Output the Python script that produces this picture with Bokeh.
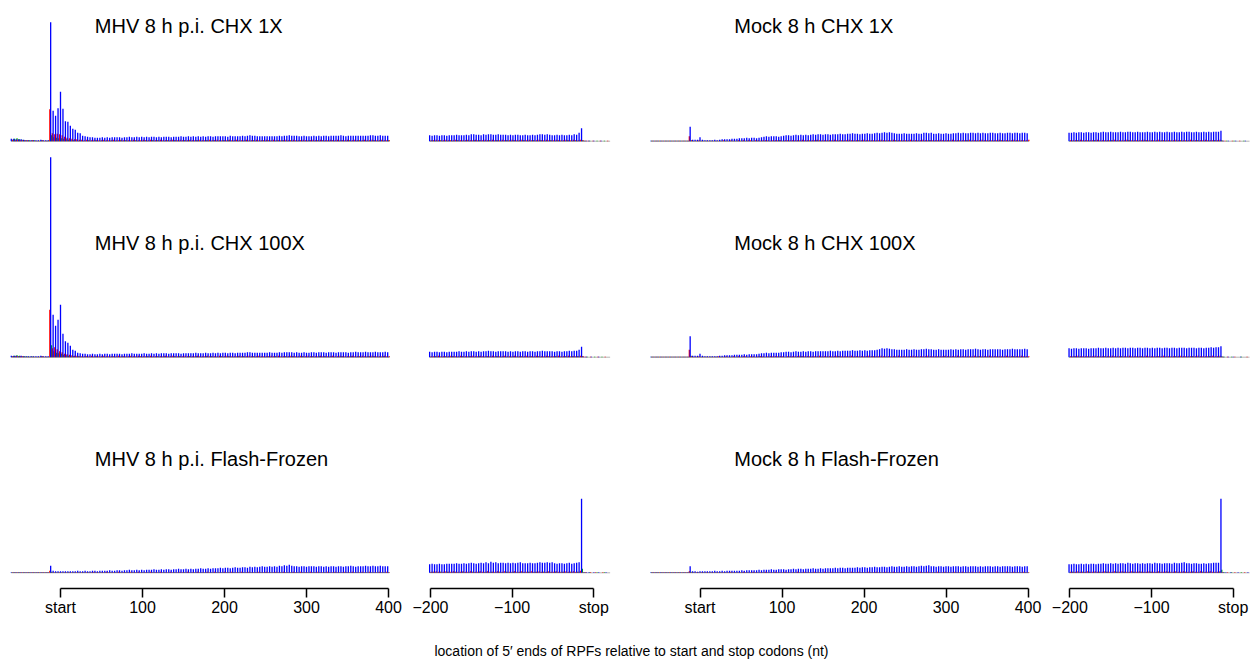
from bokeh.plotting import figure
from bokeh.layouts import column, row
from bokeh.models import Range1d, Label, LinearAxis, FixedTicker, ColumnDataSource
from bokeh.embed import file_html
from bokeh.resources import INLINE

# ------------------------------------------------------------------ data
# Density of RPF 5' ends (normalised units), one value per codon and frame.
# Start windows: in-frame positions -60, -57, ..., 399 nt relative to the start codon
# Stop windows : in-frame positions -201, -198, ..., 18 nt relative to the stop codon
# frame 0 (blue) at p, frame 1 (green) at p+1, frame 2 (red) at p+2
START_FIRST_NT = -60
STOP_FIRST_NT = -201

titles_left = ["MHV 8 h p.i. CHX 1X", "MHV 8 h p.i. CHX 100X", "MHV 8 h p.i. Flash-Frozen"]
titles_right = ["Mock 8 h CHX 1X", "Mock 8 h CHX 100X", "Mock 8 h Flash-Frozen"]
start_ticks = [0, 100, 200, 300, 400]
start_tick_labels = ["start", "100", "200", "300", "400"]
stop_ticks = [-200, -100, 0]
stop_tick_labels = ["\u2212200", "\u2212100", "stop"]
x_label = "location of 5\u2032 ends of RPFs relative to start and stop codons (nt)"

# ---- MHV 8 h p.i. CHX 1X
mhv_1x_start_blue = [
    5, 5, 4, 4, 4, 3, 2, 2, 2, 2,
    2, 2, 3, 2, 2, 2, 238, 61, 51, 66,
    99, 65, 40, 39, 31, 25, 23, 17, 16, 11,
    10, 9, 8, 8, 7, 7, 7, 8, 7, 8,
    7, 8, 8, 8, 8, 7, 8, 8, 9, 8,
    8, 9, 8, 9, 8, 9, 8, 9, 9, 8,
    9, 8, 9, 9, 9, 8, 9, 9, 9, 10,
    9, 9, 10, 9, 10, 9, 10, 9, 10, 9,
    10, 10, 9, 10, 10, 10, 10, 10, 9, 11,
    10, 10, 10, 10, 11, 10, 11, 12, 11, 11,
    10, 10, 10, 10, 10, 10, 10, 10, 10, 11,
    10, 11, 11, 12, 11, 11, 11, 10, 10, 11,
    10, 10, 10, 11, 10, 11, 10, 11, 11, 10,
    11, 11, 11, 11, 12, 11, 10, 11, 11, 11,
    11, 11, 11, 11, 11, 11, 12, 12, 11, 11,
    12, 11, 11, 11]
mhv_1x_start_green = [
    3, 5, 6, 4, 3, 2, 2, 2, 2, 2,
    1, 1, 2, 1, 1, 2, 12, 8, 7, 6,
    6, 5, 4, 3, 2, 2, 2, 1, 2, 1,
    1, 2, 1, 1, 2, 1, 1, 2, 1, 1,
    1, 2, 1, 1, 2, 1, 2, 1, 1, 1,
    2, 1, 1, 1, 2, 1, 1, 2, 1, 2,
    1, 1, 1, 2, 1, 1, 2, 1, 1, 1,
    2, 1, 2, 1, 1, 2, 1, 1, 1, 2,
    1, 1, 2, 1, 1, 1, 2, 1, 2, 1,
    1, 2, 1, 1, 1, 2, 1, 1, 2, 1,
    1, 1, 2, 1, 2, 1, 1, 1, 2, 1,
    2, 1, 1, 2, 1, 1, 1, 2, 1, 1,
    1, 2, 1, 1, 2, 1, 2, 1, 1, 1,
    2, 1, 1, 1, 2, 1, 1, 2, 1, 1,
    1, 2, 1, 2, 1, 1, 1, 2, 1, 1,
    2, 1, 1, 2]
mhv_1x_start_red = [
    3, 2, 3, 2, 2, 2, 2, 1, 2, 1,
    1, 1, 2, 1, 1, 64, 16, 14, 15, 14,
    12, 9, 7, 6, 5, 4, 4, 3, 3, 2,
    3, 2, 2, 3, 2, 2, 2, 3, 2, 2,
    2, 3, 2, 2, 3, 2, 2, 2, 2, 3,
    2, 2, 2, 3, 2, 2, 3, 2, 2, 2,
    3, 2, 2, 2, 2, 3, 2, 2, 3, 2,
    2, 2, 3, 2, 2, 2, 3, 2, 2, 2,
    3, 2, 2, 3, 2, 2, 2, 2, 3, 2,
    2, 3, 2, 2, 2, 3, 2, 2, 2, 3,
    2, 2, 2, 3, 2, 2, 3, 2, 2, 2,
    2, 3, 2, 2, 3, 2, 2, 2, 3, 2,
    2, 2, 3, 2, 2, 3, 2, 2, 2, 3,
    2, 2, 3, 2, 2, 2, 3, 2, 2, 3,
    2, 2, 2, 3, 2, 2, 3, 2, 2, 2,
    3, 2, 2, 2]
mhv_1x_stop_blue = [
    12, 11, 12, 12, 11, 12, 12, 11, 12, 12,
    12, 13, 12, 12, 12, 13, 12, 14, 14, 13,
    13, 12, 14, 13, 14, 14, 13, 13, 14, 13,
    13, 13, 12, 13, 12, 13, 13, 12, 12, 13,
    12, 12, 13, 12, 13, 14, 14, 13, 14, 13,
    12, 12, 13, 12, 13, 12, 12, 13, 12, 14,
    13, 17, 26, 1, 1, 1, 0, 1, 0, 0,
    1, 0, 0, 0]
mhv_1x_stop_green = [
    1, 2, 1, 1, 2, 1, 1, 1, 2, 1,
    1, 2, 1, 1, 1, 2, 1, 1, 2, 1,
    2, 1, 1, 1, 2, 1, 1, 2, 1, 1,
    1, 2, 1, 1, 2, 1, 1, 1, 2, 1,
    1, 1, 2, 1, 1, 2, 1, 1, 1, 2,
    1, 1, 2, 1, 1, 1, 2, 1, 1, 2,
    1, 2, 2, 1, 0, 1, 0, 0, 1, 0,
    0, 1, 0, 0]
mhv_1x_stop_red = [
    2, 2, 3, 2, 2, 2, 3, 2, 2, 2,
    3, 2, 2, 2, 2, 3, 2, 2, 3, 2,
    2, 2, 3, 2, 2, 3, 2, 2, 2, 3,
    2, 2, 2, 3, 2, 2, 2, 3, 2, 2,
    3, 2, 2, 2, 3, 2, 2, 3, 2, 2,
    2, 3, 2, 2, 2, 3, 2, 2, 3, 2,
    2, 3, 2, 1, 1, 0, 1, 0, 0, 1,
    0, 0, 1, 0]

# ---- MHV 8 h p.i. CHX 100X
mhv_100x_start_blue = [
    3, 3, 3, 2, 3, 2, 2, 2, 2, 2,
    2, 2, 3, 2, 2, 2, 400, 85, 63, 75,
    105, 47, 32, 29, 23, 15, 13, 9, 8, 7,
    7, 6, 6, 7, 6, 6, 7, 6, 7, 7,
    6, 7, 7, 7, 7, 6, 7, 7, 7, 8,
    7, 7, 7, 7, 8, 7, 7, 8, 7, 8,
    7, 8, 8, 8, 7, 8, 8, 8, 8, 7,
    8, 8, 8, 8, 8, 9, 8, 8, 8, 9,
    8, 8, 9, 8, 9, 8, 9, 9, 8, 9,
    9, 8, 9, 9, 9, 9, 10, 10, 9, 9,
    9, 9, 9, 9, 9, 10, 9, 9, 9, 10,
    9, 10, 10, 10, 10, 9, 10, 9, 9, 10,
    9, 9, 10, 10, 9, 10, 10, 10, 9, 10,
    10, 10, 9, 10, 10, 10, 10, 9, 10, 10,
    11, 10, 10, 10, 11, 10, 10, 10, 11, 10,
    10, 10, 11, 10]
mhv_100x_start_green = [
    2, 3, 4, 3, 2, 2, 2, 1, 2, 1,
    1, 1, 2, 1, 1, 1, 24, 12, 9, 8,
    7, 5, 4, 3, 2, 2, 1, 2, 1, 1,
    2, 1, 1, 1, 2, 1, 1, 2, 1, 1,
    1, 2, 1, 1, 1, 2, 1, 1, 2, 1,
    1, 1, 2, 1, 1, 2, 1, 1, 1, 2,
    1, 1, 2, 1, 1, 1, 2, 1, 2, 1,
    1, 1, 2, 1, 1, 2, 1, 1, 1, 2,
    1, 2, 1, 1, 1, 2, 1, 1, 2, 1,
    1, 1, 2, 1, 2, 1, 1, 1, 2, 1,
    2, 1, 1, 1, 2, 1, 1, 2, 1, 1,
    1, 2, 1, 1, 2, 1, 1, 1, 2, 1,
    1, 1, 2, 1, 1, 2, 1, 2, 1, 1,
    2, 1, 1, 1, 2, 1, 1, 1, 2, 1,
    1, 2, 1, 1, 1, 2, 1, 2, 1, 1,
    1, 2, 1, 1]
mhv_100x_start_red = [
    2, 2, 2, 2, 2, 1, 1, 1, 1, 1,
    1, 1, 2, 1, 1, 95, 18, 20, 16, 12,
    10, 7, 6, 5, 4, 3, 3, 2, 2, 2,
    2, 2, 3, 2, 2, 2, 2, 3, 2, 2,
    2, 2, 2, 3, 2, 2, 2, 2, 3, 2,
    2, 3, 2, 2, 2, 2, 3, 2, 2, 2,
    2, 2, 3, 2, 2, 3, 2, 2, 2, 2,
    3, 2, 2, 2, 2, 3, 2, 2, 2, 3,
    2, 2, 2, 2, 3, 2, 2, 3, 2, 2,
    2, 2, 3, 2, 2, 2, 3, 2, 2, 2,
    3, 2, 2, 2, 2, 3, 2, 2, 3, 2,
    2, 2, 2, 3, 2, 2, 2, 3, 2, 2,
    3, 2, 2, 2, 2, 3, 2, 2, 2, 2,
    3, 2, 2, 3, 2, 2, 2, 2, 3, 2,
    2, 2, 3, 2, 2, 2, 3, 2, 2, 2,
    2, 3, 2, 2]
mhv_100x_stop_blue = [
    11, 10, 11, 11, 10, 11, 11, 10, 11, 11,
    11, 11, 12, 11, 11, 12, 11, 12, 12, 11,
    12, 11, 12, 12, 13, 12, 12, 11, 12, 12,
    12, 12, 11, 12, 11, 12, 12, 11, 12, 12,
    11, 12, 12, 11, 12, 12, 13, 12, 12, 12,
    12, 11, 12, 12, 11, 12, 12, 13, 12, 13,
    13, 15, 21, 1, 1, 0, 1, 0, 0, 1,
    0, 0, 0, 0]
mhv_100x_stop_green = [
    1, 1, 2, 1, 1, 1, 2, 1, 1, 2,
    1, 1, 1, 2, 1, 1, 2, 1, 1, 1,
    2, 1, 1, 2, 1, 1, 1, 2, 1, 1,
    2, 1, 1, 1, 2, 1, 1, 2, 1, 1,
    1, 2, 1, 1, 2, 1, 1, 1, 2, 1,
    1, 2, 1, 1, 1, 2, 1, 1, 2, 1,
    2, 1, 2, 0, 1, 0, 0, 1, 0, 0,
    1, 0, 0, 0]
mhv_100x_stop_red = [
    2, 2, 2, 3, 2, 2, 2, 2, 3, 2,
    2, 2, 3, 2, 2, 2, 2, 3, 2, 2,
    3, 2, 2, 2, 2, 3, 2, 2, 2, 2,
    3, 2, 2, 2, 3, 2, 2, 2, 2, 3,
    2, 2, 2, 3, 2, 2, 2, 3, 2, 2,
    2, 2, 3, 2, 2, 2, 3, 2, 2, 2,
    2, 3, 2, 1, 0, 1, 0, 0, 1, 0,
    0, 1, 0, 0]

# ---- MHV 8 h p.i. Flash-Frozen
mhv_ff_start_blue = [
    1, 1, 1, 1, 1, 1, 1, 1, 1, 1,
    1, 1, 1, 1, 1, 1, 14, 4, 3, 3,
    3, 3, 3, 3, 3, 3, 3, 4, 3, 3,
    4, 3, 3, 4, 4, 3, 4, 4, 4, 4,
    5, 4, 4, 5, 5, 4, 5, 5, 6, 5,
    5, 6, 5, 6, 5, 6, 6, 6, 7, 6,
    6, 7, 6, 7, 7, 6, 7, 7, 8, 7,
    7, 8, 7, 8, 7, 8, 8, 9, 8, 8,
    9, 8, 9, 9, 9, 10, 9, 10, 10, 9,
    10, 11, 10, 10, 11, 11, 10, 12, 11, 12,
    11, 12, 13, 12, 12, 13, 12, 13, 12, 14,
    13, 15, 14, 16, 14, 13, 13, 12, 13, 13,
    12, 13, 13, 13, 12, 13, 13, 12, 13, 12,
    13, 13, 12, 13, 13, 12, 13, 13, 14, 13,
    12, 13, 13, 13, 14, 13, 13, 14, 13, 13,
    14, 13, 13, 13]
mhv_ff_start_green = [
    1, 1, 1, 1, 1, 1, 1, 1, 1, 1,
    1, 1, 1, 1, 1, 1, 2, 1, 1, 1,
    1, 1, 1, 1, 1, 1, 1, 1, 1, 1,
    1, 1, 1, 1, 1, 1, 1, 1, 1, 1,
    1, 1, 1, 1, 1, 1, 1, 1, 1, 1,
    1, 1, 1, 1, 1, 1, 1, 1, 1, 1,
    1, 1, 1, 1, 1, 1, 1, 1, 1, 1,
    1, 1, 1, 1, 1, 1, 1, 1, 1, 1,
    1, 1, 1, 1, 1, 1, 1, 1, 1, 1,
    1, 1, 1, 1, 1, 1, 1, 1, 1, 1,
    1, 1, 1, 1, 1, 1, 1, 1, 1, 1,
    1, 1, 1, 1, 1, 1, 1, 1, 1, 1,
    1, 1, 1, 1, 1, 1, 1, 1, 1, 1,
    1, 1, 1, 1, 1, 1, 1, 1, 1, 1,
    1, 1, 1, 1, 1, 1, 1, 1, 1, 1,
    1, 1, 1, 1]
mhv_ff_start_red = [
    1, 1, 1, 1, 1, 1, 1, 1, 1, 1,
    1, 1, 1, 1, 1, 4, 1, 1, 1, 1,
    1, 1, 1, 1, 1, 1, 1, 1, 1, 1,
    1, 1, 1, 2, 1, 1, 1, 1, 2, 1,
    1, 1, 1, 2, 1, 1, 1, 1, 2, 1,
    1, 2, 1, 1, 1, 1, 2, 1, 1, 1,
    2, 1, 1, 1, 2, 1, 1, 1, 2, 1,
    1, 2, 1, 1, 1, 2, 1, 1, 1, 2,
    1, 1, 2, 1, 1, 1, 2, 1, 1, 2,
    1, 1, 1, 2, 1, 1, 2, 1, 1, 1,
    2, 1, 1, 2, 1, 1, 1, 2, 1, 1,
    2, 1, 1, 1, 2, 1, 1, 2, 1, 1,
    1, 2, 1, 1, 2, 1, 1, 1, 2, 1,
    1, 2, 1, 1, 1, 2, 1, 1, 2, 1,
    1, 1, 2, 1, 1, 2, 1, 1, 1, 2,
    1, 1, 2, 1]
mhv_ff_stop_blue = [
    17, 18, 17, 17, 18, 17, 17, 18, 18, 18,
    18, 19, 18, 18, 19, 18, 19, 20, 19, 18,
    19, 20, 19, 21, 19, 22, 20, 21, 19, 20,
    20, 19, 20, 19, 20, 19, 20, 21, 19, 19,
    19, 20, 19, 19, 20, 21, 20, 20, 21, 20,
    21, 19, 18, 19, 19, 18, 19, 20, 18, 19,
    20, 21, 148, 1, 1, 1, 0, 1, 0, 1,
    0, 0, 1, 0]
mhv_ff_stop_green = [
    1, 2, 1, 1, 2, 1, 1, 2, 1, 1,
    2, 1, 1, 2, 1, 1, 1, 2, 1, 1,
    2, 1, 1, 2, 1, 2, 1, 1, 2, 1,
    1, 2, 1, 1, 2, 1, 1, 2, 1, 1,
    2, 1, 1, 2, 1, 1, 2, 1, 2, 1,
    1, 2, 1, 1, 2, 1, 1, 2, 1, 1,
    2, 2, 8, 1, 0, 1, 0, 0, 1, 0,
    0, 1, 0, 0]
mhv_ff_stop_red = [
    2, 2, 3, 2, 2, 2, 3, 2, 2, 3,
    2, 2, 2, 3, 2, 2, 3, 2, 2, 2,
    3, 2, 2, 3, 2, 2, 2, 3, 2, 2,
    3, 2, 2, 2, 3, 2, 2, 3, 2, 2,
    2, 3, 2, 2, 3, 2, 2, 2, 3, 2,
    2, 3, 2, 2, 2, 3, 2, 2, 3, 2,
    2, 4, 1, 1, 0, 1, 0, 1, 0, 0,
    1, 0, 0, 0]

# ---- Mock 8 h CHX 1X
mock_1x_start_blue = [
    1, 1, 1, 1, 1, 1, 1, 1, 1, 1,
    1, 1, 1, 1, 1, 1, 29, 3, 3, 3,
    8, 3, 2, 2, 2, 2, 3, 2, 3, 4,
    4, 4, 4, 5, 5, 5, 6, 6, 6, 7,
    6, 7, 7, 6, 7, 8, 9, 10, 9, 10,
    10, 10, 9, 10, 11, 12, 12, 11, 12, 13,
    12, 13, 12, 13, 12, 13, 14, 13, 14, 14,
    13, 14, 14, 13, 14, 14, 14, 15, 14, 14,
    15, 15, 16, 15, 15, 14, 15, 15, 16, 15,
    15, 16, 17, 16, 17, 18, 17, 18, 17, 16,
    15, 15, 15, 16, 15, 15, 15, 15, 16, 15,
    15, 17, 17, 16, 17, 15, 15, 16, 15, 15,
    16, 15, 15, 16, 16, 17, 16, 17, 16, 16,
    17, 17, 16, 17, 16, 17, 16, 16, 17, 17,
    16, 16, 17, 16, 16, 17, 17, 16, 17, 17,
    16, 17, 17, 16]
mock_1x_start_green = [
    1, 1, 1, 1, 1, 1, 1, 1, 1, 1,
    1, 1, 1, 1, 1, 1, 2, 1, 1, 1,
    1, 1, 1, 1, 1, 1, 1, 1, 1, 1,
    1, 1, 1, 1, 1, 1, 1, 1, 1, 1,
    1, 1, 1, 1, 1, 1, 1, 1, 1, 1,
    1, 1, 2, 1, 1, 1, 1, 1, 1, 1,
    1, 1, 1, 1, 1, 1, 1, 2, 1, 1,
    1, 1, 1, 1, 1, 1, 1, 1, 1, 1,
    1, 1, 1, 1, 2, 1, 1, 1, 1, 1,
    1, 1, 1, 1, 1, 1, 1, 1, 1, 2,
    1, 1, 1, 1, 1, 1, 1, 1, 1, 1,
    1, 1, 1, 2, 1, 1, 1, 1, 1, 1,
    1, 1, 1, 1, 1, 1, 1, 1, 2, 1,
    1, 1, 1, 1, 1, 1, 1, 1, 1, 1,
    1, 1, 2, 1, 1, 1, 1, 1, 1, 1,
    1, 1, 1, 1]
mock_1x_start_red = [
    1, 1, 1, 1, 1, 1, 1, 1, 1, 1,
    1, 1, 1, 1, 1, 10, 2, 1, 1, 2,
    1, 1, 1, 1, 1, 1, 1, 1, 1, 2,
    1, 1, 2, 1, 1, 2, 1, 2, 1, 2,
    2, 1, 2, 2, 1, 2, 2, 2, 1, 2,
    2, 2, 2, 1, 2, 2, 2, 2, 2, 2,
    2, 3, 2, 2, 2, 2, 2, 3, 2, 2,
    2, 2, 2, 2, 3, 2, 2, 2, 2, 2,
    3, 2, 2, 2, 2, 2, 3, 2, 2, 2,
    2, 2, 2, 3, 2, 2, 2, 2, 3, 2,
    2, 2, 2, 2, 2, 3, 2, 2, 2, 2,
    3, 2, 2, 2, 2, 2, 2, 3, 2, 2,
    2, 2, 3, 2, 2, 2, 2, 2, 2, 3,
    2, 2, 2, 2, 3, 2, 2, 2, 2, 2,
    2, 3, 2, 2, 2, 2, 2, 3, 2, 2,
    2, 2, 2, 3]
mock_1x_stop_blue = [
    17, 17, 18, 17, 18, 18, 17, 18, 18, 17,
    18, 18, 17, 18, 19, 18, 18, 19, 18, 18,
    18, 19, 18, 18, 19, 19, 18, 18, 19, 18,
    18, 18, 19, 18, 18, 19, 18, 19, 18, 18,
    19, 18, 18, 19, 18, 18, 19, 18, 19, 19,
    18, 18, 19, 18, 18, 19, 18, 19, 18, 19,
    19, 19, 21, 1, 0, 1, 0, 0, 1, 0,
    0, 0, 1, 0]
mock_1x_stop_green = [
    1, 1, 1, 2, 1, 1, 1, 1, 1, 1,
    2, 1, 1, 1, 1, 1, 1, 2, 1, 1,
    1, 1, 1, 1, 2, 1, 1, 1, 1, 1,
    1, 2, 1, 1, 1, 1, 1, 1, 2, 1,
    1, 1, 1, 1, 1, 2, 1, 1, 1, 1,
    1, 1, 2, 1, 1, 1, 1, 1, 1, 2,
    1, 1, 2, 0, 1, 0, 0, 1, 0, 0,
    0, 1, 0, 0]
mock_1x_stop_red = [
    2, 2, 2, 2, 3, 2, 2, 2, 2, 2,
    2, 3, 2, 2, 2, 2, 2, 2, 3, 2,
    2, 2, 2, 3, 2, 2, 2, 2, 2, 2,
    3, 2, 2, 2, 2, 2, 3, 2, 2, 2,
    2, 2, 2, 3, 2, 2, 2, 2, 2, 3,
    2, 2, 2, 2, 2, 3, 2, 2, 2, 2,
    2, 3, 1, 1, 0, 0, 1, 0, 0, 1,
    0, 0, 0, 0]

# ---- Mock 8 h CHX 100X
mock_100x_start_blue = [
    1, 1, 1, 1, 1, 1, 1, 1, 1, 1,
    1, 1, 1, 1, 1, 1, 42, 3, 3, 3,
    7, 3, 2, 2, 2, 2, 2, 2, 3, 3,
    4, 4, 4, 4, 5, 5, 5, 5, 6, 5,
    6, 6, 6, 6, 7, 8, 8, 9, 8, 9,
    9, 9, 9, 10, 10, 11, 11, 10, 11, 12,
    11, 11, 12, 11, 12, 12, 11, 12, 12, 12,
    12, 12, 12, 13, 12, 12, 13, 12, 13, 13,
    13, 13, 14, 13, 13, 14, 13, 14, 13, 14,
    14, 14, 15, 16, 18, 17, 18, 17, 16, 16,
    15, 15, 15, 15, 16, 15, 15, 16, 15, 15,
    16, 16, 17, 16, 16, 15, 15, 16, 15, 15,
    15, 15, 16, 15, 16, 15, 16, 16, 15, 16,
    16, 16, 17, 16, 15, 16, 16, 15, 16, 16,
    16, 16, 16, 15, 16, 16, 16, 17, 16, 16,
    16, 16, 17, 16]
mock_100x_start_green = [
    1, 1, 1, 1, 1, 1, 1, 1, 1, 1,
    1, 1, 1, 1, 1, 1, 3, 1, 1, 1,
    1, 1, 1, 1, 1, 1, 1, 1, 1, 1,
    1, 1, 1, 1, 1, 1, 1, 1, 1, 1,
    1, 1, 1, 1, 2, 1, 1, 1, 1, 1,
    1, 1, 1, 1, 1, 1, 1, 1, 1, 1,
    1, 2, 1, 1, 1, 1, 1, 1, 1, 1,
    1, 1, 1, 1, 1, 1, 2, 1, 1, 1,
    1, 1, 1, 1, 1, 1, 1, 1, 1, 1,
    2, 1, 1, 1, 1, 1, 1, 1, 1, 1,
    1, 1, 1, 1, 1, 2, 1, 1, 1, 1,
    1, 1, 1, 1, 1, 1, 1, 1, 1, 2,
    1, 1, 1, 1, 1, 1, 1, 1, 1, 1,
    1, 1, 1, 2, 1, 1, 1, 1, 1, 1,
    1, 1, 1, 1, 1, 1, 1, 2, 1, 1,
    1, 1, 1, 1]
mock_100x_start_red = [
    1, 1, 1, 1, 1, 1, 1, 1, 1, 1,
    1, 1, 1, 1, 1, 15, 2, 1, 1, 2,
    1, 1, 1, 1, 1, 1, 1, 2, 1, 1,
    2, 1, 1, 2, 1, 2, 1, 2, 2, 1,
    2, 2, 1, 2, 2, 2, 1, 2, 2, 2,
    2, 2, 2, 2, 1, 2, 2, 2, 2, 2,
    3, 2, 2, 2, 2, 2, 2, 2, 3, 2,
    2, 2, 2, 2, 2, 3, 2, 2, 2, 2,
    2, 3, 2, 2, 2, 2, 2, 2, 3, 2,
    2, 2, 2, 3, 2, 2, 2, 2, 2, 2,
    3, 2, 2, 2, 2, 2, 3, 2, 2, 2,
    2, 2, 3, 2, 2, 2, 2, 2, 2, 3,
    2, 2, 2, 2, 3, 2, 2, 2, 2, 2,
    2, 3, 2, 2, 2, 2, 2, 3, 2, 2,
    2, 2, 2, 2, 3, 2, 2, 2, 2, 2,
    3, 2, 2, 2]
mock_100x_stop_blue = [
    18, 17, 18, 18, 17, 18, 18, 18, 17, 18,
    18, 18, 19, 18, 18, 19, 18, 18, 19, 18,
    19, 18, 19, 19, 18, 19, 19, 18, 19, 19,
    18, 19, 19, 18, 19, 18, 19, 19, 18, 19,
    19, 18, 19, 19, 18, 19, 19, 19, 18, 19,
    19, 19, 18, 19, 19, 18, 19, 19, 20, 19,
    20, 20, 22, 1, 0, 1, 0, 1, 0, 0,
    1, 0, 0, 0]
mock_100x_stop_green = [
    1, 1, 2, 1, 1, 1, 1, 1, 1, 1,
    1, 1, 1, 1, 2, 1, 1, 1, 1, 1,
    1, 2, 1, 1, 1, 1, 1, 1, 1, 2,
    1, 1, 1, 1, 1, 1, 2, 1, 1, 1,
    1, 1, 1, 2, 1, 1, 1, 1, 1, 1,
    2, 1, 1, 1, 1, 1, 1, 2, 1, 1,
    1, 1, 2, 1, 0, 0, 1, 0, 0, 0,
    1, 0, 0, 0]
mock_100x_stop_red = [
    2, 2, 2, 3, 2, 2, 2, 2, 2, 2,
    3, 2, 2, 2, 2, 2, 2, 3, 2, 2,
    2, 2, 2, 2, 3, 2, 2, 2, 2, 2,
    2, 3, 2, 2, 2, 2, 2, 2, 3, 2,
    2, 2, 2, 2, 2, 3, 2, 2, 2, 2,
    2, 2, 3, 2, 2, 2, 2, 2, 3, 2,
    2, 3, 1, 0, 1, 0, 0, 1, 0, 0,
    0, 0, 1, 0]

# ---- Mock 8 h Flash-Frozen
mock_ff_start_blue = [
    1, 1, 1, 1, 1, 1, 1, 1, 1, 1,
    1, 1, 1, 1, 1, 1, 13, 3, 3, 2,
    3, 3, 3, 3, 3, 3, 4, 3, 3, 4,
    3, 4, 4, 4, 4, 4, 4, 5, 4, 5,
    5, 5, 5, 5, 6, 5, 6, 6, 6, 7,
    6, 6, 7, 7, 7, 6, 7, 7, 8, 7,
    8, 8, 7, 8, 8, 8, 9, 8, 8, 9,
    8, 9, 9, 9, 9, 10, 9, 10, 10, 9,
    10, 10, 10, 10, 11, 10, 11, 11, 10, 11,
    11, 12, 11, 11, 12, 12, 11, 12, 13, 12,
    12, 13, 12, 12, 13, 12, 13, 13, 12, 13,
    14, 13, 14, 15, 13, 13, 12, 13, 13, 12,
    13, 13, 12, 13, 13, 13, 12, 13, 13, 12,
    13, 13, 13, 12, 13, 12, 13, 13, 13, 12,
    13, 13, 12, 13, 13, 13, 13, 12, 13, 13,
    13, 12, 13, 13]
mock_ff_start_green = [
    1, 1, 1, 1, 1, 1, 1, 1, 1, 1,
    1, 1, 1, 1, 1, 1, 2, 1, 1, 1,
    1, 1, 1, 1, 1, 1, 1, 1, 1, 1,
    1, 1, 1, 1, 1, 1, 1, 1, 1, 1,
    1, 1, 1, 1, 1, 1, 1, 1, 1, 1,
    1, 1, 1, 1, 1, 1, 1, 1, 1, 1,
    1, 1, 1, 1, 1, 1, 1, 1, 1, 1,
    1, 1, 1, 1, 1, 1, 1, 1, 1, 1,
    1, 1, 1, 1, 1, 1, 1, 1, 1, 1,
    1, 1, 1, 1, 1, 1, 1, 1, 1, 1,
    1, 1, 1, 1, 1, 1, 1, 1, 1, 1,
    1, 1, 1, 1, 1, 1, 1, 1, 1, 1,
    1, 1, 1, 1, 1, 1, 1, 1, 1, 1,
    1, 1, 1, 1, 1, 1, 1, 1, 1, 1,
    1, 1, 1, 1, 1, 1, 1, 1, 1, 1,
    1, 1, 1, 1]
mock_ff_start_red = [
    1, 1, 1, 1, 1, 1, 1, 1, 1, 1,
    1, 1, 1, 1, 1, 3, 1, 1, 1, 1,
    1, 1, 1, 1, 1, 1, 1, 1, 1, 1,
    1, 1, 2, 1, 1, 1, 1, 2, 1, 1,
    1, 2, 1, 1, 1, 1, 2, 1, 1, 1,
    2, 1, 1, 1, 2, 1, 1, 1, 1, 2,
    1, 1, 2, 1, 1, 1, 2, 1, 1, 1,
    2, 1, 1, 2, 1, 1, 1, 2, 1, 1,
    1, 2, 1, 1, 2, 1, 1, 1, 2, 1,
    1, 2, 1, 1, 1, 2, 1, 1, 2, 1,
    1, 1, 2, 1, 1, 2, 1, 1, 1, 2,
    1, 1, 2, 1, 1, 1, 2, 1, 1, 2,
    1, 1, 1, 2, 1, 1, 2, 1, 1, 1,
    2, 1, 1, 2, 1, 1, 1, 2, 1, 1,
    2, 1, 1, 1, 2, 1, 1, 2, 1, 1,
    1, 2, 1, 1]
mock_ff_stop_blue = [
    17, 17, 18, 17, 17, 18, 17, 18, 17, 18,
    18, 17, 18, 18, 19, 18, 18, 19, 18, 19,
    18, 19, 19, 18, 20, 19, 18, 19, 19, 18,
    19, 18, 19, 19, 18, 20, 19, 19, 18, 19,
    19, 19, 18, 20, 19, 19, 20, 21, 19, 19,
    18, 19, 19, 18, 18, 19, 18, 19, 19, 20,
    20, 20, 148, 1, 1, 0, 1, 0, 0, 1,
    0, 0, 0, 1]
mock_ff_stop_green = [
    1, 2, 1, 1, 1, 2, 1, 1, 2, 1,
    1, 1, 2, 1, 1, 2, 1, 1, 1, 2,
    1, 1, 2, 1, 1, 1, 2, 1, 1, 2,
    1, 1, 1, 2, 1, 1, 2, 1, 1, 1,
    2, 1, 1, 2, 1, 1, 1, 2, 1, 1,
    2, 1, 1, 1, 2, 1, 1, 2, 1, 1,
    1, 2, 6, 1, 0, 0, 1, 0, 0, 0,
    1, 0, 0, 0]
mock_ff_stop_red = [
    2, 2, 2, 3, 2, 2, 2, 3, 2, 2,
    3, 2, 2, 2, 3, 2, 2, 2, 3, 2,
    2, 3, 2, 2, 2, 3, 2, 2, 3, 2,
    2, 2, 3, 2, 2, 2, 3, 2, 2, 3,
    2, 2, 2, 3, 2, 2, 3, 2, 2, 2,
    3, 2, 2, 3, 2, 2, 2, 3, 2, 2,
    2, 3, 1, 0, 1, 0, 0, 1, 0, 0,
    0, 1, 0, 0]

# ------------------------------------------------------------------ layout
PX_PER_UNIT = 0.5          # vertical pixels per density unit
BLUE, GREEN, RED = "#0000FF", "#00B400", "#FF0000"
FONT = "Liberation Sans"
BAR_WIDTH = 1.3

# columns: canvas left, canvas width, border left/right, page pixel of x=0, pixels per nt
COLS = [
    dict(left=0, w=410, bl=8, br=12, zero=60.0, s=0.82),
    dict(left=410, w=230, bl=5, br=15, zero=593.3, s=0.8167),
    dict(left=640, w=410, bl=5, br=12, zero=699.5, s=0.82),
    dict(left=1050, w=200, bl=5, br=0, zero=1232.7, s=0.8167),
]
# rows: canvas top, canvas height, border bottom, page pixel of baseline, title anchor
ROWS = [
    dict(top=0, h=150, bb=0, base=140.7, tbase=25.3),
    dict(top=150, h=216, bb=0, base=356.7, tbase=242.0),
    dict(top=366, h=264, bb=42, base=572.3, tbase=458.5),
]
TITLE_PX_FROM_ZERO = 34.3


def make_panel(c, r, first_nt, blue, green, red, ticks, tick_labels, title=None, axis=False):
    fl, fr = c["left"] + c["bl"], c["left"] + c["w"] - c["br"]
    ft, fb = r["top"], r["top"] + r["h"] - r["bb"]
    xr = Range1d((fl - c["zero"]) / c["s"], (fr - c["zero"]) / c["s"])
    yr = Range1d(-(fb - r["base"]) / PX_PER_UNIT, (r["base"] - ft) / PX_PER_UNIT)
    p = figure(width=c["w"], height=r["h"], x_range=xr, y_range=yr,
               output_backend="svg", toolbar_location=None,
               x_axis_location=None, y_axis_location=None,
               min_border_left=c["bl"], min_border_right=c["br"],
               min_border_top=0, min_border_bottom=r["bb"])
    p.outline_line_color = None
    p.xgrid.grid_line_color = None
    p.ygrid.grid_line_color = None
    p.background_fill_color = "white"
    p.border_fill_color = "white"

    xb = [first_nt + 3 * i for i in range(len(blue))]
    p.line([xb[0], xb[-1] + 2], [0, 0], line_color="#b4b4b4", line_width=1)
    for vals, off, col in ((green, 1, GREEN), (red, 2, RED), (blue, 0, BLUE)):
        src = ColumnDataSource(dict(x=[x + off for x in xb[:len(vals)]], y=vals[:len(xb)]))
        p.segment(x0="x", y0=0, x1="x", y1="y", source=src, line_color=col, line_width=BAR_WIDTH)

    if title:
        p.add_layout(Label(x=TITLE_PX_FROM_ZERO / c["s"], y=(r["base"] - r["tbase"]) / PX_PER_UNIT,
                           text=title, text_font=FONT, text_font_size="20px",
                           text_color="black", text_align="left", text_baseline="alphabetic"))
    if axis:
        ax = LinearAxis(ticker=FixedTicker(ticks=ticks, minor_ticks=[]),
                        bounds=(min(ticks), max(ticks)),
                        major_label_overrides={t: l for t, l in zip(ticks, tick_labels)},
                        axis_line_color="black", axis_line_width=1.5,
                        major_tick_line_color="black", major_tick_line_width=1.5,
                        major_tick_out=9, major_tick_in=0,
                        minor_tick_out=0, minor_tick_in=0,
                        major_label_standoff=1,
                        major_label_text_font=FONT, major_label_text_font_size="16px",
                        major_label_text_color="black")
        p.add_layout(ax, "below")
    return p


left_sets = [
    (mhv_1x_start_blue, mhv_1x_start_green, mhv_1x_start_red,
     mhv_1x_stop_blue, mhv_1x_stop_green, mhv_1x_stop_red),
    (mhv_100x_start_blue, mhv_100x_start_green, mhv_100x_start_red,
     mhv_100x_stop_blue, mhv_100x_stop_green, mhv_100x_stop_red),
    (mhv_ff_start_blue, mhv_ff_start_green, mhv_ff_start_red,
     mhv_ff_stop_blue, mhv_ff_stop_green, mhv_ff_stop_red),
]
right_sets = [
    (mock_1x_start_blue, mock_1x_start_green, mock_1x_start_red,
     mock_1x_stop_blue, mock_1x_stop_green, mock_1x_stop_red),
    (mock_100x_start_blue, mock_100x_start_green, mock_100x_start_red,
     mock_100x_stop_blue, mock_100x_stop_green, mock_100x_stop_red),
    (mock_ff_start_blue, mock_ff_start_green, mock_ff_start_red,
     mock_ff_stop_blue, mock_ff_stop_green, mock_ff_stop_red),
]

rows = []
for ri, r in enumerate(ROWS):
    axis = ri == len(ROWS) - 1
    figs = []
    for ci, (sets, titles) in enumerate(((left_sets, titles_left), (right_sets, titles_right))):
        sb, sg, sr, eb, eg, er = sets[ri]
        figs.append(make_panel(COLS[2 * ci], r, START_FIRST_NT, sb, sg, sr,
                               start_ticks, start_tick_labels, title=titles[ri], axis=axis))
        figs.append(make_panel(COLS[2 * ci + 1], r, STOP_FIRST_NT, eb, eg, er,
                               stop_ticks, stop_tick_labels, axis=axis))
    rows.append(row(*figs, spacing=0))

# bottom label strip (ranges in page pixels)
lab = figure(width=1250, height=30, x_range=Range1d(0, 1250), y_range=Range1d(660, 630),
             output_backend="svg", toolbar_location=None,
             x_axis_location=None, y_axis_location=None,
             min_border_left=0, min_border_right=0, min_border_top=0, min_border_bottom=0)
lab.outline_line_color = None
lab.xgrid.grid_line_color = None
lab.ygrid.grid_line_color = None
lab.add_layout(Label(x=631, y=650, text=x_label, text_font=FONT, text_font_size="14px",
                     text_color="black", text_align="center", text_baseline="alphabetic"))

layout = column(*rows, lab, spacing=0)
open("out.html", "w").write(file_html(layout, INLINE))
